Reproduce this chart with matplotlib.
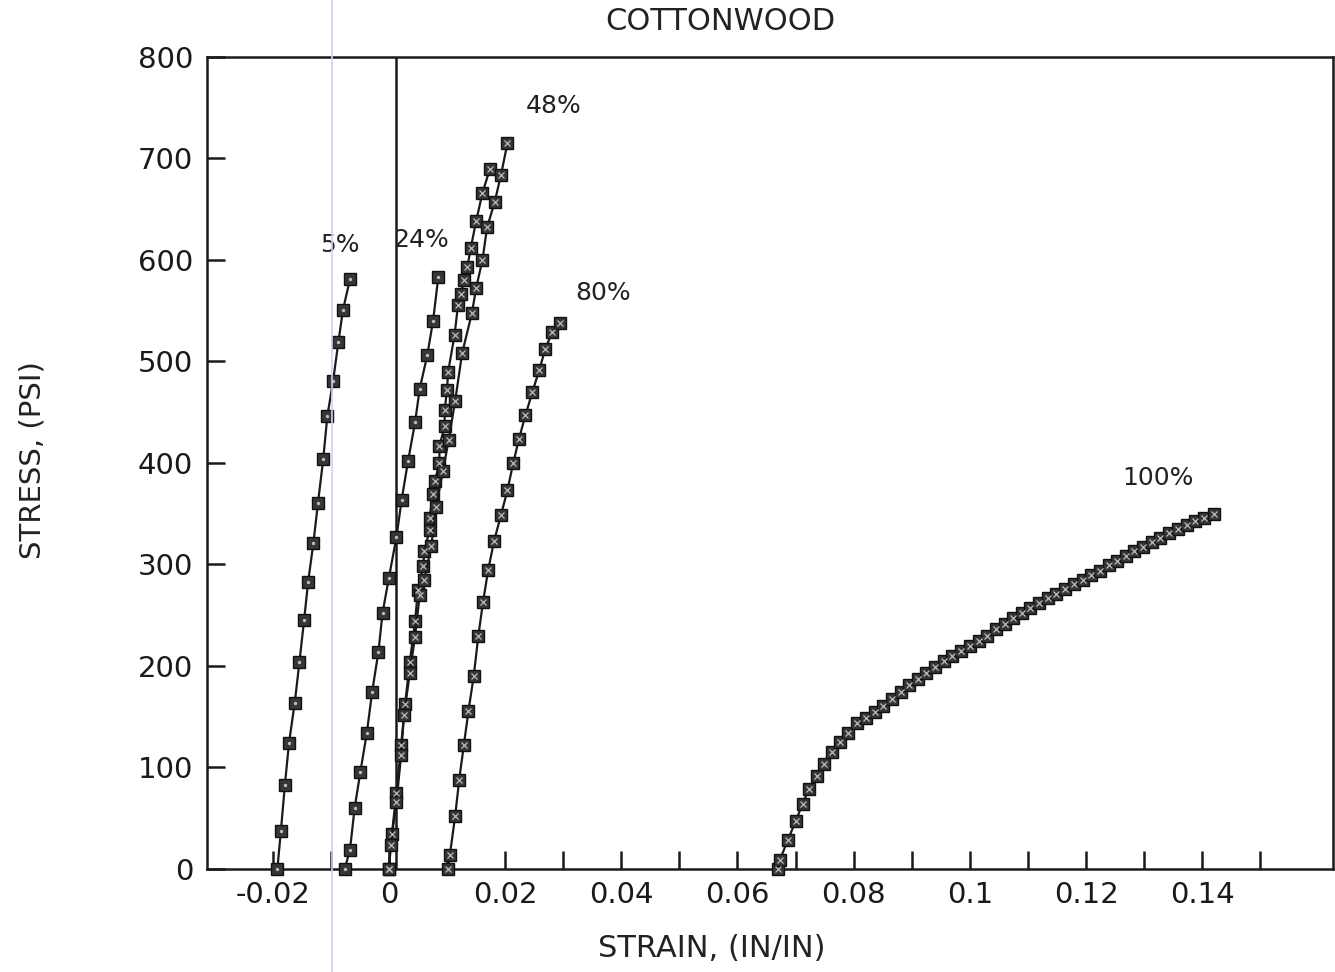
import matplotlib
matplotlib.use("Agg")
import matplotlib.pyplot as plt
from matplotlib.lines import Line2D

# values (strain in/in, stress psi)
strain_5 = [-0.0192, -0.0186, -0.0179, -0.0172, -0.0162, -0.0154, -0.0146, -0.0139,
            -0.0130, -0.0122, -0.0113, -0.0106, -0.0096, -0.0087, -0.0079, -0.0067]
stress_5 = [0, 37, 83, 124, 164, 204, 245, 283, 321, 361, 404, 446, 481, 519, 551, 581]

strain_24 = [-0.0076, -0.0067, -0.0059, -0.0049, -0.0038, -0.0029, -0.0018, -0.0011, 0.0000,
             0.0013, 0.0022, 0.0033, 0.0045, 0.0053, 0.0066, 0.0076, 0.0085]
stress_24 = [0, 19, 60, 96, 134, 174, 214, 252, 287, 327, 364, 402, 440, 473, 506, 540, 583]

strain_48a = [0.0000, 0.0005, 0.0013, 0.0021, 0.0028, 0.0036, 0.0045, 0.0050, 0.0059, 0.0061,
              0.0070, 0.0070, 0.0076, 0.0079, 0.0087, 0.0087, 0.0096, 0.0096, 0.0100, 0.0102,
              0.0113, 0.0119, 0.0124, 0.0129, 0.0135, 0.0141, 0.0150, 0.0161, 0.0174]
stress_48a = [0, 34, 75, 122, 163, 204, 244, 275, 298, 313, 334, 346, 369, 382, 400, 417,
              436, 452, 472, 490, 526, 556, 566, 580, 593, 612, 638, 666, 690]

strain_48b = [0.0000, 0.0003, 0.0013, 0.0021, 0.0026, 0.0036, 0.0045, 0.0053, 0.0061, 0.0073,
              0.0081, 0.0093, 0.0103, 0.0114, 0.0126, 0.0143, 0.0150, 0.0161, 0.0169, 0.0182,
              0.0193, 0.0204]
stress_48b = [0, 24, 66, 112, 152, 193, 229, 270, 285, 318, 357, 392, 423, 461, 508, 548,
              572, 600, 632, 657, 684, 715]

strain_80 = [0.0102, 0.0105, 0.0114, 0.0121, 0.0129, 0.0137, 0.0146, 0.0154, 0.0162, 0.0171,
             0.0181, 0.0193, 0.0204, 0.0214, 0.0224, 0.0235, 0.0247, 0.0259, 0.0269, 0.0281,
             0.0294]
stress_80 = [0, 14, 52, 88, 122, 156, 190, 230, 263, 295, 323, 349, 373, 400, 424, 447,
             470, 492, 512, 529, 538]

strain_100 = [0.0670, 0.0673, 0.0687, 0.0700, 0.0712, 0.0723, 0.0736, 0.0749, 0.0762, 0.0776,
              0.0791, 0.0805, 0.0821, 0.0836, 0.0851, 0.0866, 0.0881, 0.0896, 0.0911, 0.0925,
              0.0940, 0.0955, 0.0970, 0.0985, 0.1000, 0.1015, 0.1030, 0.1045, 0.1060, 0.1075,
              0.1090, 0.1104, 0.1119, 0.1134, 0.1149, 0.1164, 0.1179, 0.1194, 0.1209, 0.1224,
              0.1239, 0.1254, 0.1269, 0.1283, 0.1298, 0.1313, 0.1328, 0.1343, 0.1358, 0.1373,
              0.1388, 0.1403, 0.1420]
stress_100 = [0, 9, 29, 47, 64, 79, 92, 103, 115, 125, 134, 144, 149, 155, 161, 167, 174,
              181, 187, 193, 199, 205, 210, 215, 220, 225, 230, 236, 241, 247, 252, 257, 262,
              267, 271, 276, 281, 285, 290, 294, 299, 303, 308, 313, 317, 322, 326, 331, 335,
              339, 343, 346, 350]

# curve labels: text, strain, stress
labels = ["5%", "24%", "48%", "80%", "100%"]
label_x = [-0.0084, 0.0056, 0.0284, 0.0368, 0.1324]
label_y = [615, 620, 752, 567, 385]

x_ticks = [-0.02, 0, 0.02, 0.04, 0.06, 0.08, 0.1, 0.12, 0.14]
x_ticklabels = ["-0.02", "0", "0.02", "0.04", "0.06", "0.08", "0.1", "0.12", "0.14"]
x_minor = [-0.01, 0.01, 0.03, 0.05, 0.07, 0.09, 0.11, 0.13, 0.15]
y_ticks = [0, 100, 200, 300, 400, 500, 600, 700, 800]

plt.rcParams['font.family'] = ['DejaVu Sans']

fig = plt.figure(figsize=(13.35, 9.72), dpi=100)
ax = fig.add_axes([0.1551, 0.106, 0.8434, 0.8354])

series = [
    (strain_5, stress_5, '.'),
    (strain_24, stress_24, '.'),
    (strain_48a, stress_48a, 'x'),
    (strain_48b, stress_48b, 'x'),
    (strain_80, stress_80, 'x'),
    (strain_100, stress_100, 'x'),
]
for xs, ys, inner in series:
    ax.plot(xs, ys, color='#1a1a1a', lw=1.6, marker='s', ms=9,
            mfc='#363636', mec='#111111', mew=1.0, clip_on=False, zorder=3)
    # speckled halftone look inside the squares
    ax.plot(xs, ys, ls='none', marker=inner, ms=4 if inner == 'x' else 3,
            color='#bdbdbd', mew=0.9, clip_on=False, zorder=4)

# the vertical reference line near zero strain
ax.axvline(0.0012, color='#1a1a1a', lw=1.8, zorder=2)

for txt, lx, ly in zip(labels, label_x, label_y):
    ax.text(lx, ly, txt, fontsize=18, ha='center', va='center', color='#222222')

ax.set_xlim(-0.0313, 0.1625)
ax.set_ylim(0, 800)
ax.set_xticks(x_ticks)
ax.set_xticklabels(x_ticklabels)
ax.set_xticks(x_minor, minor=True)
ax.set_yticks(y_ticks)
ax.tick_params(axis='both', which='both', direction='in', length=13, width=1.8,
               labelsize=21, colors='#1a1a1a')
ax.tick_params(axis='x', which='major', pad=9)
ax.tick_params(axis='y', which='major', pad=10)
for sp in ax.spines.values():
    sp.set_linewidth(1.8)
    sp.set_color('#1a1a1a')

fig.text(720 / 1335, 1 - 22 / 972, "COTTONWOOD", fontsize=22, ha='center', va='center',
         color='#222222')
fig.text(712 / 1335, 1 - 948 / 972, "STRAIN, (IN/IN)", fontsize=22, ha='center',
         va='center', color='#222222')
fig.text(33 / 1335, 1 - 460 / 972, "STRESS, (PSI)", fontsize=21, ha='center', va='center',
         rotation=90, color='#222222')

# faint blue scanner streak seen on the original page
fig.add_artist(Line2D([332 / 1335, 332 / 1335], [0, 1], transform=fig.transFigure,
                      color='#c9d3f2', lw=1.2))

fig.savefig("out.png", dpi=100)
